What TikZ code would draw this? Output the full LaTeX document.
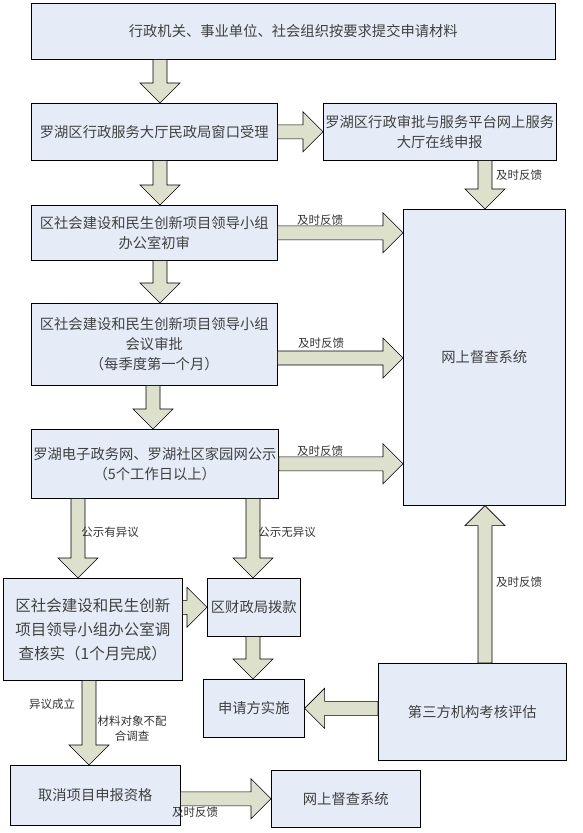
\documentclass[tikz,border=0pt]{standalone}
\usepackage{fontspec}
\setmainfont{Noto Sans CJK SC}
\usetikzlibrary{calc}

\definecolor{boxblue}{HTML}{E6ECF7}
\definecolor{arrowgreen}{HTML}{DDE0CB}
\definecolor{txtgray}{HTML}{404040}

\tikzset{
  stage/.style={draw=black, line width=0.6pt, fill=boxblue, text=txtgray,
    align=center, anchor=north west, inner sep=2pt, font=\fontsize{14.3}{20}\selectfont},
  fat/.style={draw=black, line width=0.6pt, fill=arrowgreen, line join=miter},
  fb/.style={text=black!80, font=\fontsize{11.5}{15}\selectfont, inner sep=1pt, align=center}
}

% block arrow from #1 to #2
\newcommand{\fatarrow}[2]{%
  \coordinate (fa-s) at #1; \coordinate (fa-e) at #2;
  \coordinate (fa-h) at ($(fa-e)!20pt!(fa-s)$);
  \draw[fat] ($(fa-s)!7pt!90:(fa-e)$) -- ($(fa-h)!7pt!90:(fa-e)$)
    -- ($(fa-h)!20pt!90:(fa-e)$) -- (fa-e) -- ($(fa-h)!20pt!-90:(fa-e)$)
    -- ($(fa-h)!7pt!-90:(fa-e)$) -- ($(fa-s)!7pt!-90:(fa-e)$) -- cycle;}

\begin{document}
\begin{tikzpicture}[x=1pt,y=-1pt]
	\useasboundingbox (0,0) rectangle (582,833);
	
	% columns and rows for the arrows
	\coordinate (c1) at (160,0);
	\coordinate (c2) at (153,0);
	\coordinate (c3) at (485,0);
	\coordinate (c4) at (78,0);
	\coordinate (c5) at (253,0);
	\coordinate (c6) at (89,0);
	\coordinate (r5) at (0,358);
	
	\node[stage, minimum width=524, minimum height=56] (b1) at (31,3) {行政机关、事业单位、社会组织按要求提交申请材料};
	\node[stage, minimum width=246, minimum height=57] (b2) at (31,103) {罗湖区行政服务大厅民政局窗口受理};
	\node[stage, minimum width=232, minimum height=57] (b3) at (323,103) {罗湖区行政审批与服务平台网上服务\\大厅在线申报};
	\node[stage, minimum width=246, minimum height=55] (b4) at (31,205) {区社会建设和民生创新项目领导小组\\办公室初审};
	\node[stage, minimum width=246, minimum height=82] (b5) at (31,303) {区社会建设和民生创新项目领导小组\\会议审批\\（每季度第一个月）};
	\node[stage, minimum width=246, minimum height=69] (b6) at (31,429) {罗湖电子政务网、罗湖社区家园网公示\\（5个工作日以上）};
	\node[stage, minimum width=162, minimum height=296] (big) at (403,209) {网上督查系统};
	\node[stage, minimum width=179, minimum height=102, font=\fontsize{15.5}{24}\selectfont] (b7) at (3,578) {区社会建设和民生创新\\项目领导小组办公室调\\查核实（1个月完成）};
	\node[stage, minimum width=93, minimum height=58] (b8) at (207,578) {区财政局拨款};
	\node[stage, minimum width=101, minimum height=58] (b9) at (203,679) {申请方实施};
	\node[stage, minimum width=188, minimum height=97] (b10) at (378,663) {第三方机构考核评估};
	\node[stage, minimum width=170, minimum height=60] (b11) at (10,765) {取消项目申报资格};
	\node[stage, minimum width=149, minimum height=57] (b12) at (271,770) {网上督查系统};
	
	\fatarrow{(b1.south -| c1)}{(b2.north -| c1)}
	\fatarrow{(b2.east)}{(b3.west)}
	\fatarrow{(b2.south -| c1)}{(b4.north -| c1)}
	\fatarrow{(b4.south -| c1)}{(b5.north -| c1)}
	\fatarrow{(b5.south -| c2)}{(b6.north -| c2)}
	\fatarrow{(b3.south -| c3)}{(big.north -| c3)}
	\fatarrow{(b4.east)}{(big.west |- b4.east)}
	\fatarrow{(b5.east |- r5)}{(big.west |- r5)}
	\fatarrow{(b6.east)}{(big.west |- b6.east)}
	\fatarrow{(b6.south -| c4)}{(b7.north -| c4)}
	\fatarrow{(b6.south -| c5)}{(b8.north -| c5)}
	\fatarrow{(b7.east |- b8.west)}{(b8.west)}
	\fatarrow{(b8.south -| c5)}{(b9.north -| c5)}
	\fatarrow{(b10.west |- b9.east)}{(b9.east)}
	\fatarrow{(b10.north -| c3)}{(big.south -| c3)}
	\fatarrow{(b7.south -| c6)}{(b11.north -| c6)}
	\fatarrow{(b11.east |- b12.west)}{(b12.west)}
	
	\node[fb] (l1) at (519,175) {及时反馈};
	\node[fb] (l2) at (320,220) {及时反馈};
	\node[fb] (l3) at (321,343) {及时反馈};
	\node[fb] (l4) at (320,451) {及时反馈};
	\node[fb] (l5) at (110,532) {公示有异议};
	\node[fb] (l6) at (287,532) {公示无异议};
	\node[fb] (l7) at (519,582) {及时反馈};
	\node[fb] (l8) at (52,704) {异议成立};
	\node[fb] (l9) at (132,729) {材料对象不配\\合调查};
	\node[fb] (l10) at (195,812) {及时反馈};
\end{tikzpicture}
\end{document}
